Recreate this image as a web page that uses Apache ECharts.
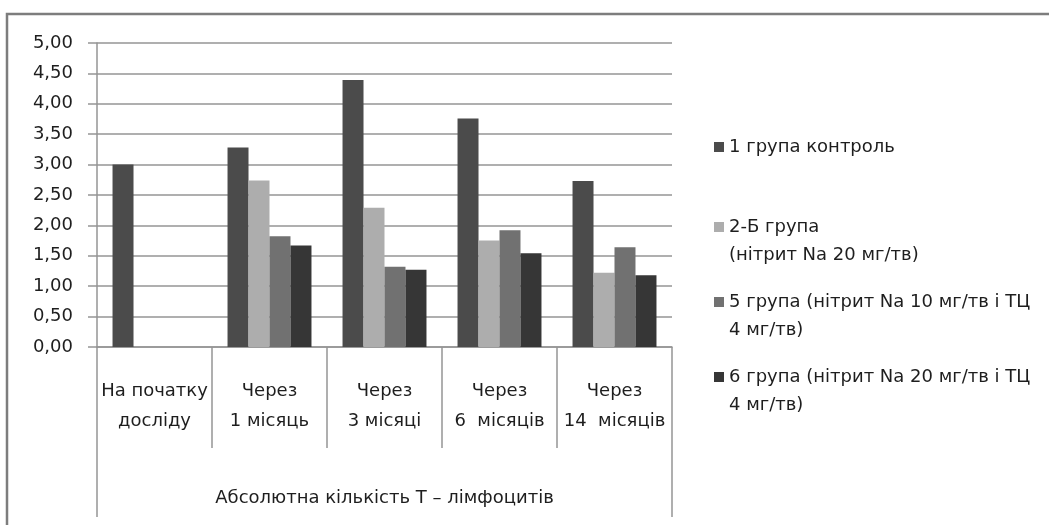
<!DOCTYPE html>
<html>
<head>
<meta charset="utf-8">
<script src="https://cdn.jsdelivr.net/npm/echarts/dist/echarts.min.js"></script>
<style>
  html, body { margin: 0; padding: 0; background: #fff; }
  #main { width: 1049px; height: 525px; }
</style>
</head>
<body>
<div id="main"></div>
<script>
// categories (two lines each) and the outer group label
const categories = ['На початку\nдосліду', 'Через\n1 місяць', 'Через\n3 місяці', 'Через\n6  місяців', 'Через\n14  місяців']
const groupLabel = ['Абсолютна кількість Т – лімфоцитів']

const seriesNames = [
  '1 група контроль',
  '2-Б група\n(нітрит Na 20 мг/тв)',
  '5 група (нітрит Na 10 мг/тв і ТЦ\n4 мг/тв)',
  '6 група (нітрит Na 20 мг/тв і ТЦ\n4 мг/тв)'
]
const group1 = [3.00, 3.28, 4.39, 3.76, 2.73]
const group2B = [null, 2.74, 2.29, 1.75, 1.22]
const group5 = [null, 1.82, 1.32, 1.92, 1.64]
const group6 = [null, 1.67, 1.27, 1.54, 1.18]

const colors = ['#4b4b4b', '#adadad', '#717171', '#363636']
const font = 'DejaVu Sans'
const gray = '#959595'

const chart = echarts.init(document.getElementById('main'))

// one legend per item so each can sit where the original has it
function legendFor(name, top) {
  return {
    data: [name],
    orient: 'vertical',
    left: 709,
    top: top,
    icon: 'rect',
    itemWidth: 10,
    itemHeight: 10,
    selectedMode: false,
    // leading blank line keeps the square level with the first text line
    formatter: n => (n.indexOf('\n') >= 0 ? '\n' + n : n),
    textStyle: { fontFamily: font, fontSize: 18, lineHeight: 28, color: '#1e1e1e' }
  }
}

chart.setOption({
  color: colors,
  animation: false,
  graphic: [
    {
      type: 'rect',
      shape: { x: 7, y: 14, width: 1200, height: 700 },
      style: { fill: 'none', stroke: '#7d7d7d', lineWidth: 2.5 },
      silent: true
    }
  ],
  legend: [
    legendFor(seriesNames[0], 128),
    legendFor(seriesNames[1], 180),
    legendFor(seriesNames[2], 255),
    legendFor(seriesNames[3], 330)
  ],
  grid: { left: 97, top: 43, width: 575, height: 304, outerBoundsMode: 'none' },
  xAxis: [
    {
      type: 'category',
      data: categories,
      position: 'bottom',
      axisLine: { show: true, lineStyle: { color: gray, width: 1.5 } },
      axisTick: {
        show: true,
        alignWithLabel: false,
        interval: 0,
        length: 101,
        lineStyle: { color: gray, width: 1.5 }
      },
      axisLabel: {
        interval: 0,
        margin: 29,
        fontFamily: font,
        fontSize: 18,
        lineHeight: 30,
        color: '#1e1e1e'
      }
    },
    {
      type: 'category',
      data: groupLabel,
      position: 'bottom',
      axisLine: { show: false },
      axisTick: {
        show: true,
        alignWithLabel: false,
        interval: 0,
        length: 170,
        lineStyle: { color: gray, width: 1.5 }
      },
      axisLabel: {
        interval: 0,
        margin: 141,
        fontFamily: font,
        fontSize: 18,
        lineHeight: 20,
        color: '#1e1e1e'
      }
    }
  ],
  yAxis: {
    type: 'value',
    min: 0,
    max: 5,
    interval: 0.5,
    axisLine: { show: true, lineStyle: { color: gray, width: 1.5 } },
    axisTick: { show: true, length: 9, lineStyle: { color: gray, width: 1.5 } },
    splitLine: { lineStyle: { color: gray, width: 1.5 } },
    axisLabel: {
      margin: 24,
      fontFamily: font,
      fontSize: 18,
      color: '#1e1e1e',
      formatter: v => v.toFixed(2).replace('.', ',')
    }
  },
  series: [
    { name: seriesNames[0], type: 'bar', data: group1, barGap: '0%', barCategoryGap: '27%' },
    { name: seriesNames[1], type: 'bar', data: group2B },
    { name: seriesNames[2], type: 'bar', data: group5 },
    { name: seriesNames[3], type: 'bar', data: group6 }
  ]
})
</script>
</body>
</html>
